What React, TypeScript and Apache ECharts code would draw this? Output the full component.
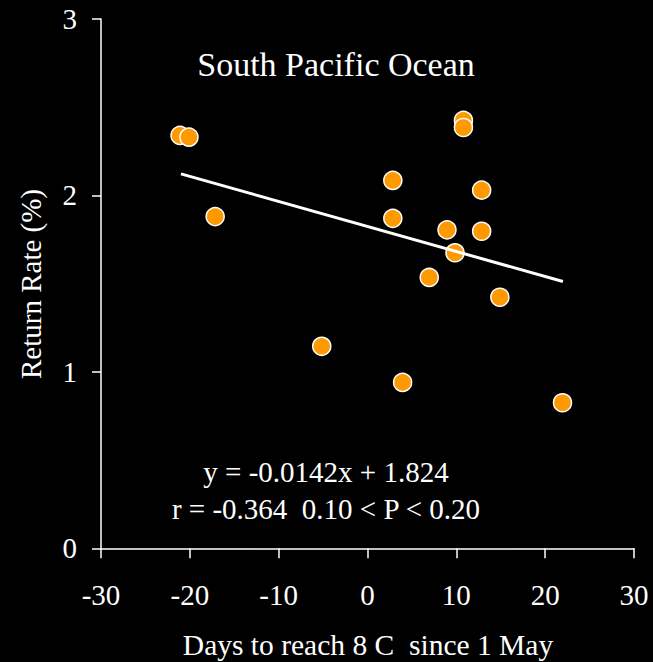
import React, { useEffect, useRef } from "react";
import * as echarts from "echarts";

const daysTo8C = [-21.1, -20.1, -17.15, -5.15, 2.85, 2.85, 3.95, 6.95, 8.95, 9.85, 10.8, 10.8, 12.85, 12.85, 14.9, 21.95];
const returnRate = [2.34, 2.33, 1.88, 1.145, 2.085, 1.87, 0.94, 1.535, 1.805, 1.675, 2.425, 2.385, 2.03, 1.797, 1.423, 0.825];
const fitX = [-21, 22];
const fitY = [2.122, 1.512];

const titleText = "South Pacific Ocean";
const xTitle = "Days to reach 8 C  since 1 May";
const yTitle = "Return Rate (%)";
const eqLine1 = "y = -0.0142x + 1.824";
const eqLine2 = "r = -0.364  0.10 < P < 0.20";

const FONT = "Liberation Serif";

const txt = (text: string, x: number, y: number, size: number, rotation = 0) => ({
  type: "text",
  x,
  y,
  rotation,
  style: {
    text,
    fill: "#ffffff",
    fontFamily: FONT,
    fontSize: size,
    textAlign: "center",
    textVerticalAlign: "middle",
  },
});

export default function App() {
  const ref = useRef<HTMLDivElement>(null);
  useEffect(() => {
    if (!ref.current) return;
    const chart = echarts.init(ref.current, null, { renderer: "svg" });
    const points = daysTo8C.map((x, i) => [x, returnRate[i]]);
    const fit = fitX.map((x, i) => [x, fitY[i]]);
    chart.setOption({
      animation: false,
      backgroundColor: "#000000",
      textStyle: { fontFamily: FONT },
      grid: { left: 101, right: 19, top: 19, bottom: 113.7, containLabel: false },
      xAxis: {
        type: "value",
        min: -30,
        max: 30,
        interval: 10,
        axisLine: { show: true, onZero: false, lineStyle: { color: "#ffffff", width: 1.5 } },
        axisTick: { show: true, inside: false, length: 10, lineStyle: { color: "#ffffff", width: 1.5 } },
        axisLabel: { color: "#ffffff", fontFamily: FONT, fontSize: 29, margin: 32 },
        splitLine: { show: false },
      },
      yAxis: {
        type: "value",
        min: 0,
        max: 3,
        interval: 1,
        axisLine: { show: true, onZero: false, lineStyle: { color: "#ffffff", width: 1.5 } },
        axisTick: { show: true, inside: false, length: 9, lineStyle: { color: "#ffffff", width: 1.5 } },
        axisLabel: { color: "#ffffff", fontFamily: FONT, fontSize: 29, margin: 24 },
        splitLine: { show: false },
      },
      series: [
        {
          type: "scatter",
          data: points,
          symbol: "circle",
          symbolSize: 18,
          itemStyle: { color: "#ff9900", borderColor: "#ffffff", borderWidth: 1.5, opacity: 1 },
          z: 2,
        },
        {
          type: "line",
          data: fit,
          showSymbol: false,
          symbol: "none",
          lineStyle: { color: "#ffffff", width: 3 },
          z: 3,
        },
      ],
      graphic: [
        txt(titleText, 336, 64, 34),
        txt(xTitle, 368, 645, 29.5),
        txt(yTitle, 31, 284, 29),
        txt(eqLine1, 326, 472, 29),
        txt(eqLine2, 326, 509, 29),
      ].map((g, i) => (i === 2 ? { ...g, rotation: Math.PI / 2 } : g)),
    });
    return () => chart.dispose();
  }, []);
  return (
    <div
      ref={ref}
      style={{ position: "fixed", left: 0, top: 0, width: 653, height: 662, background: "#000" }}
    />
  );
}
